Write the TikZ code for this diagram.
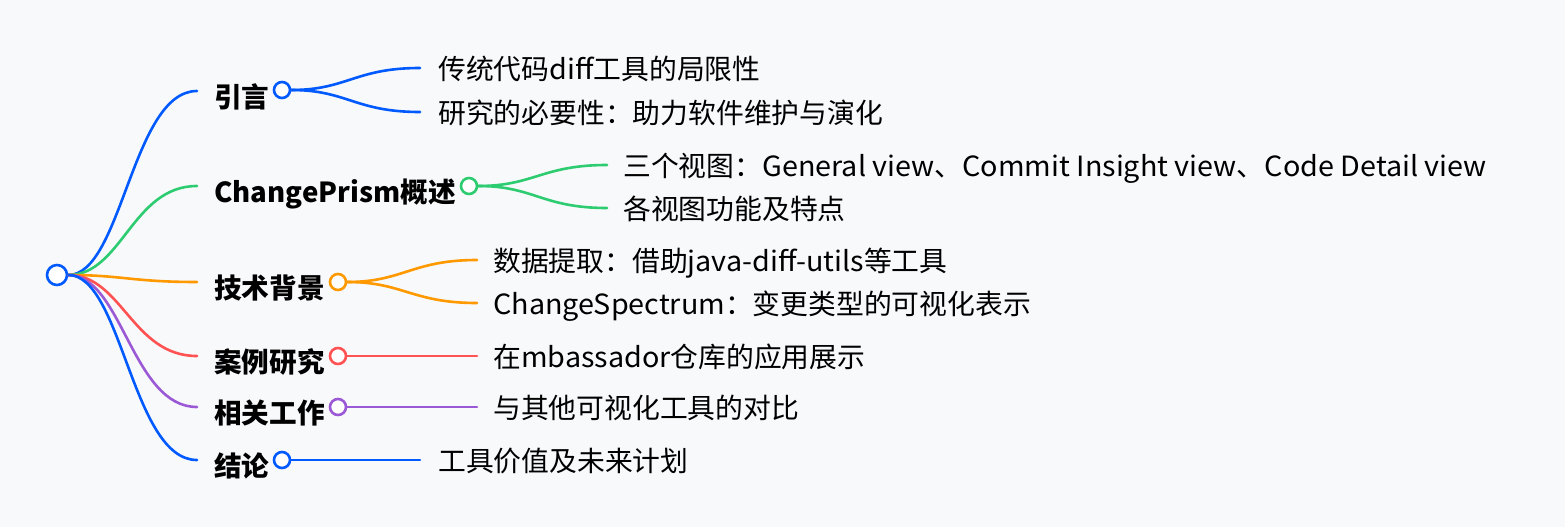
\documentclass[tikz,border=0pt]{standalone}
\usepackage{fontspec}
\setmainfont{Noto Sans CJK SC}
\newfontfamily\latwide[FakeStretch=1.034]{Noto Sans CJK SC}
\newcommand{\lt}[1]{{\latwide #1}}
\usepackage{tikz}
\definecolor{mmbg}{RGB}{248,249,251}
\definecolor{mmblue}{RGB}{0,90,255}
\definecolor{mmgreen}{RGB}{46,204,113}
\definecolor{mmorange}{RGB}{255,153,0}
\definecolor{mmred}{RGB}{255,82,82}
\definecolor{mmpurple}{RGB}{155,89,214}

\begin{document}
\begin{tikzpicture}[x=1pt,y=-1pt,line width=2.6pt,
		every node/.style={font=\fontsize{27.8}{33}\selectfont,inner sep=0pt,anchor=base west},
		topic/.style={font=\fontsize{27.6}{33}\selectfont\bfseries},
		dot/.style={circle,draw,fill=white,minimum size=16pt,inner sep=0pt,anchor=center},
		link/.style={line cap=round}]
			\fill[mmbg] (0,0) rectangle (1565,527);
			\useasboundingbox (0,0) rectangle (1565,527);
			\node[dot,draw=mmblue,minimum size=20pt] (root) at (57,275) {};
			% first level
			\coordinate (intro-in) at (197,91);
			\coordinate (over-in) at (197,186);
			\coordinate (tech-in) at (197,282);
			\coordinate (case-in) at (197,356);
			\coordinate (rel-in) at (197,407);
			\coordinate (concl-in) at (197,460);
			\draw[link,mmblue] (root) .. controls +(65,0) and +(-65,0) .. (intro-in);
			\draw[link,mmgreen] (root) .. controls +(65,0) and +(-65,0) .. (over-in);
			\draw[link,mmorange] (root) .. controls +(65,0) and +(-65,0) .. (tech-in);
			\draw[link,mmred] (root) .. controls +(65,0) and +(-65,0) .. (case-in);
			\draw[link,mmpurple] (root) .. controls +(65,0) and +(-65,0) .. (rel-in);
			\draw[link,mmblue] (root) .. controls +(65,0) and +(-65,0) .. (concl-in);
			\node[topic] (intro) at (213,107) {引言};
			\node[topic] (over) at (213,202) {ChangePrism概述};
			\node[topic] (tech) at (213,298) {技术背景};
			\node[topic] (case) at (213,372) {案例研究};
			\node[topic] (rel) at (213,423) {相关工作};
			\node[topic] (concl) at (213,476) {结论};
			\node[dot,draw=mmblue] (intro-dot) at (282,90) {};
			\node[dot,draw=mmgreen] (over-dot) at (469,186) {};
			\node[dot,draw=mmorange] (tech-dot) at (338,282) {};
			\node[dot,draw=mmred] (case-dot) at (338,356) {};
			\node[dot,draw=mmpurple] (rel-dot) at (338,407) {};
			\node[dot,draw=mmblue] (concl-dot) at (282,460) {};
			% second level
			\coordinate (intro-a) at (420,68);
			\coordinate (intro-b) at (420,112);
			\coordinate (over-a) at (607,165);
			\coordinate (over-b) at (607,208);
			\coordinate (tech-a) at (477,260);
			\coordinate (tech-b) at (477,303);
			\coordinate (case-a) at (477,356);
			\coordinate (rel-a) at (477,407);
			\coordinate (concl-a) at (420,460);
			\draw[link,mmblue] (intro-dot) .. controls +(65,0) and +(-65,0) .. (intro-a);
			\draw[link,mmblue] (intro-dot) .. controls +(65,0) and +(-65,0) .. (intro-b);
			\draw[link,mmgreen] (over-dot) .. controls +(65,0) and +(-65,0) .. (over-a);
			\draw[link,mmgreen] (over-dot) .. controls +(65,0) and +(-65,0) .. (over-b);
			\draw[link,mmorange] (tech-dot) .. controls +(65,0) and +(-65,0) .. (tech-a);
			\draw[link,mmorange] (tech-dot) .. controls +(65,0) and +(-65,0) .. (tech-b);
			\draw[link,mmred] (case-dot) -- (case-a);
			\draw[link,mmpurple] (rel-dot) -- (rel-a);
			\draw[link,mmblue] (concl-dot) -- (concl-a);
			\node (intro-a-txt) at (437,79) {传统代码\lt{diff}工具的局限性};
			\node (intro-b-txt) at (437,123) {研究的必要性：助力软件维护与演化};
			\node (over-a-txt) at (622,176) {三个视图：\lt{General view}、\lt{Commit Insight view}、\lt{Code Detail view}};
			\node (over-b-txt) at (622,219) {各视图功能及特点};
			\node (tech-a-txt) at (492,271) {数据提取：借助\lt{java-diff-utils}等工具};
			\node (tech-b-txt) at (492,314) {\lt{ChangeSpectrum}：变更类型的可视化表示};
			\node (case-a-txt) at (492,367) {在\lt{mbassador}仓库的应用展示};
			\node (rel-a-txt) at (492,418) {与其他可视化工具的对比};
			\node (concl-a-txt) at (437,471) {工具价值及未来计划};
		\end{tikzpicture}
\end{document}
